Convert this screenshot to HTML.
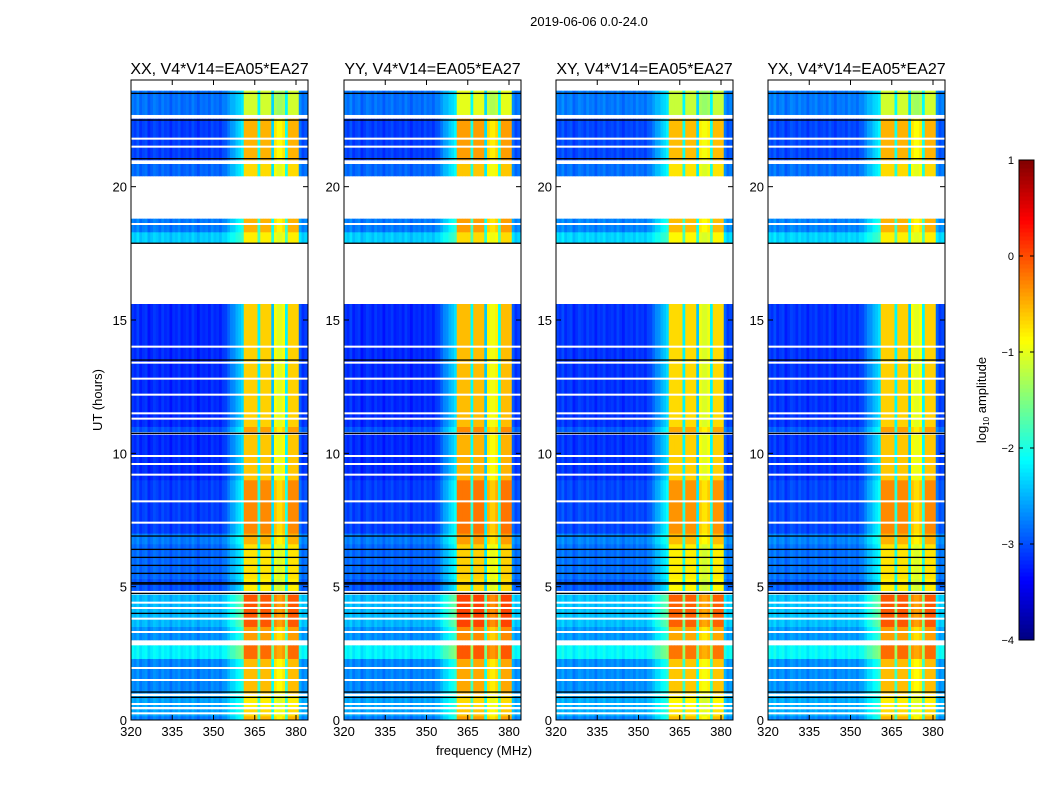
<!DOCTYPE html>
<html><head><meta charset="utf-8"><style>
body{margin:0;background:#fff;}
svg text{font-family:"Liberation Sans",sans-serif;fill:#000;}
</style></head><body>
<svg id="fig" width="1050" height="800" xmlns="http://www.w3.org/2000/svg">
<rect width="1050" height="800" fill="#fff"/>
<text x="589" y="26" font-size="13" text-anchor="middle">2019-06-06 0.0-24.0</text>
<text x="484" y="755" font-size="13" text-anchor="middle">frequency (MHz)</text>
<text transform="translate(102,400) rotate(-90)" font-size="13" text-anchor="middle">UT (hours)</text>
<text transform="translate(986,400) rotate(-90)" font-size="13" text-anchor="middle">log<tspan font-size="8" dy="3">10</tspan><tspan dy="-3"> amplitude</tspan></text>
<g id="panels"></g>
<g id="cbar"></g>
</svg>
<script>
// ---- data ----
const panelTitles = ["XX, V4*V14=EA05*EA27","YY, V4*V14=EA05*EA27","XY, V4*V14=EA05*EA27","YX, V4*V14=EA05*EA27"];
const panelBandOffset = [0, 0.1, -0.05, 0.0];
const panelBgOffset = [0, 0.0, 0.05, 0.05];
// time segments: start hour, end hour, background log amp, band log amp (null = no data)
const segStart = [0,0.15,0.4,0.5,0.9,1.0,1.1,2.3,2.8,3.0,3.5,4.7,4.85,5.3,6.6,7.0,9.0,10.7,10.8,11.0,15.6,17.9,18.3,18.8,20.4,20.85,21.0,22.55,22.7,23.6];
const segEnd   = [0.15,0.4,0.5,0.9,1.0,1.1,2.3,2.8,3.0,3.5,4.7,4.85,5.3,6.6,7.0,9.0,10.7,10.8,11.0,15.6,17.9,18.3,18.8,20.4,20.85,21.0,22.55,22.7,23.6,24.0];
const segBg    = [-2.8,-2.6,null,-2.6,null,-2.7,-2.75,-2.2,null,-2.7,-2.5,null,-3.0,-2.9,-2.8,-3.1,-3.2,null,-3.0,-3.2,null,-2.4,-2.8,null,-2.9,null,-3.1,null,-2.85,null];
const segBand  = [-0.5,-0.7,null,-0.8,null,-0.6,-0.55,-0.15,null,-0.4,-0.05,null,-0.8,-0.75,-0.5,-0.3,-0.6,null,-0.4,-0.65,null,-0.8,-0.5,null,-0.7,null,-0.5,null,-1.1,null];
// frequency channels (MHz), band weight (0 = background, 1 = full band) and per-channel ripple
const freqs = [];
for (let f = 320; f < 384.5; f += 1) freqs.push(f);
const freqWeight = [0,0,0,0,0,0,0,0,0,0, 0,0,0,0,0,0,0,0,0,0, 0,0,0,0,0,0,0,0,0,0, 0,0,0,0,0.05,0.1,0.15,0.2,0.25,0.3, 0.35,1,1,1,1,1,0.4,1,1,1, 1,0.3,0.9,0.85,0.85,0.9,0.4,1,1,1, 1,0.1,0.05,0.05,0.05];
const freqRipple = [0.1,0,0.15,-0.05,0.05,0.1,-0.1,0,0.1,0.05, -0.05,0.1,0,0.05,-0.1,0.05,0,0.1,-0.05,0, 0.05,-0.05,0.1,0,-0.1,0.05,0,0.05,-0.05,0.1, 0,0.05,-0.05,0.1,0,0.05,0.1,0,0.05,0, 0,0,-0.1,0.05,-0.05,0,0,-0.05,0.05,-0.1,0, 0,0,0.05,0,0,0,-0.05,0.05,-0.05,0, 0,-0.1,0,-0.05];
const thinWhite = [0.25,0.6,1.5,1.95,3.3,3.8,4.2,4.4,7.4,8.2,9.2,9.6,9.9,11.3,11.5,12.2,12.8,13.4,14.0,21.8,21.5,18.6];
const thinBlack = [0.85,1.05,4.0,4.75,5.1,5.15,5.5,5.8,6.1,6.4,6.9,10.75,13.5,17.88,21.05,22.5,23.5];
const xTicks = [320,335,350,365,380];
const yTicks = [0,5,10,15,20];
const cbTicks = [1,0,-1,-2,-3,-4];
// ---- layout ----
const panelX = [131,344,556,768], PW = 177, PT = 80, PB = 720;
const fMin = 320, fMax = 384.36, hMin = 0, hMax = 24, vMin = -4, vMax = 1;
function jet(v){
  let t = Math.max(0, Math.min(1, (v - vMin) / (vMax - vMin)));
  const c = x => Math.round(255*Math.max(0, Math.min(1, 1.5 - Math.abs(4*t - x))));
  return `rgb(${c(3)},${c(2)},${c(1)})`;
}
const NS = "http://www.w3.org/2000/svg";
function mk(tag, attrs, parent){ const e = document.createElementNS(NS, tag); for (const k in attrs) e.setAttribute(k, attrs[k]); parent.appendChild(e); return e; }
const yS = h => PB - (h - hMin) / (hMax - hMin) * (PB - PT);
const panelsG = document.getElementById('panels');
panelX.forEach((px, p) => {
  const xS = f => px + (f - fMin) / (fMax - fMin) * PW;
  const g = mk('g', {}, panelsG);
  
  
  segStart.forEach((s, i) => {
    if (segBg[i] === null) return;
    const y0 = yS(segEnd[i]), y1 = yS(s);
    freqs.forEach((f, j) => {
      const w = freqWeight[j];
      const bg = segBg[i] + panelBgOffset[p] + (freqRipple[j] || 0);
      const v = bg + w * (segBand[i] + panelBandOffset[p] - bg);
      const x0 = xS(f), x1 = Math.min(xS(f + 1), px + PW);
      const r = mk('rect', {x: x0, y: y0, width: Math.max(0, x1 - x0 + 0.3), height: y1 - y0 + 0.3, fill: jet(v)}, g);
      
      
    });
  });
  thinWhite.forEach(h => {
    const l = mk('rect', {x: px, y: yS(h) - 1, width: PW, height: 2, fill: '#fff'}, g);
    
    
  });
  thinBlack.forEach(h => {
    const l = mk('rect', {x: px, y: yS(h) - 0.6, width: PW, height: 1.3, fill: '#000'}, g);
    
    
  });
  const fr = mk('rect', {x: px, y: PT, width: PW, height: PB - PT, fill: 'none', stroke: '#000', 'stroke-width': 1}, g);
  
  
  const t = mk('text', {x: px + PW/2, y: 74, 'font-size': 16, 'text-anchor': 'middle'}, g);
  t.textContent = panelTitles[p];
  
  
  xTicks.forEach(f => {
    const x = xS(f);
    mk('line', {x1: x, x2: x, y1: PB, y2: PB - 5, stroke: '#000'}, g);
    mk('line', {x1: x, x2: x, y1: PT, y2: PT + 5, stroke: '#000'}, g);
    const tl = mk('text', {x: x, y: PB + 16, 'font-size': 13, 'text-anchor': 'middle'}, g);
    tl.textContent = f;
    
    
  });
  yTicks.forEach(h => {
    const y = yS(h);
    mk('line', {x1: px, x2: px + 5, y1: y, y2: y, stroke: '#000'}, g);
    mk('line', {x1: px + PW, x2: px + PW - 5, y1: y, y2: y, stroke: '#000'}, g);
    const tl = mk('text', {x: px - 4, y: y + 5, 'font-size': 13, 'text-anchor': 'end'}, g);
    tl.textContent = h;
    
    
  });
});
// colorbar
const cb = document.getElementById('cbar');
const CX = 1019, CW = 15, CT = 160, CB = 640;
const cy = v => CB - (v - vMin) / (vMax - vMin) * (CB - CT);
for (let k = 0; k < 120; k++) {
  const v0 = vMin + k * (vMax - vMin) / 120, v1 = vMin + (k + 1) * (vMax - vMin) / 120;
  const r = mk('rect', {x: CX, y: cy(v1), width: CW, height: cy(v0) - cy(v1) + 0.5, fill: jet((v0 + v1) / 2)}, cb);
  
  
}
const cf = mk('rect', {x: CX, y: CT, width: CW, height: CB - CT, fill: 'none', stroke: '#000'}, cb);


cbTicks.forEach(v => {
  const y = cy(v);
  mk('line', {x1: CX, x2: CX + 4, y1: y, y2: y, stroke: '#000'}, cb);
  mk('line', {x1: CX + CW, x2: CX + CW - 4, y1: y, y2: y, stroke: '#000'}, cb);
  const tl = mk('text', {x: CX - 5, y: y + 4, 'font-size': 11, 'text-anchor': 'end'}, cb);
  tl.textContent = v < 0 ? '\u2212' + (-v) : v;
  
  
});
</script>
</body></html>
